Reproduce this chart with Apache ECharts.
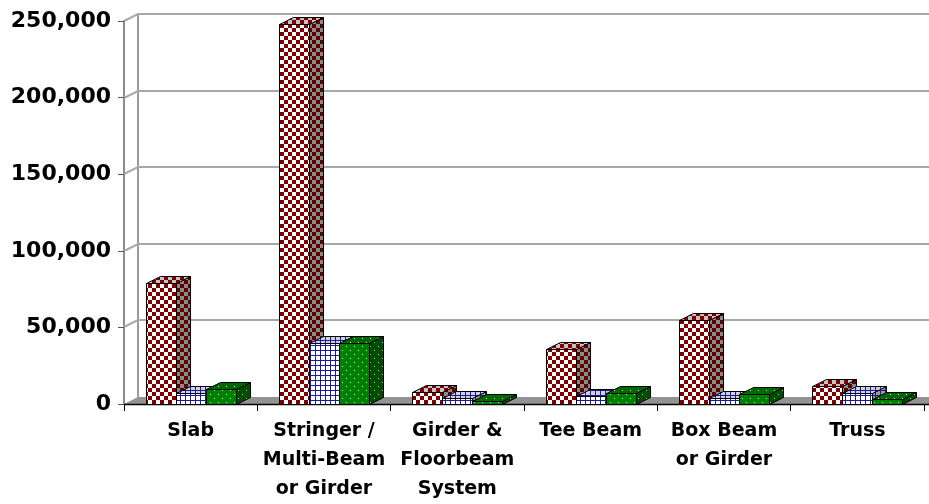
<!DOCTYPE html>
<html>
<head>
<meta charset="utf-8">
<script src="https://cdn.jsdelivr.net/npm/echarts@6/dist/echarts.min.js"></script>
<style>
  html, body { margin: 0; padding: 0; background: #ffffff; }
  #chart { width: 929px; height: 504px; }
</style>
</head>
<body>
<div id="chart"></div>
<script>
// Bridge superstructure types and counts per series
const categories = ['Slab', 'Stringer /\nMulti-Beam\nor Girder', 'Girder &\nFloorbeam\nSystem', 'Tee Beam', 'Box Beam\nor Girder', 'Truss'];
const checkerValues = [79000, 248000, 8000, 36000, 55000, 12000];
const gridValues    = [7500, 39500, 4000, 5500, 4000, 7500];
const dottedValues  = [9500, 40000, 2000, 7000, 6500, 3000];
const yTicks = [0, 50000, 100000, 150000, 200000, 250000];

// pseudo-3D depth offset (px) for walls, floor and columns
const DX = 14, DY = -7;

// ---- fill patterns ----
function makeCanvas(w, h, draw) {
  const c = document.createElement('canvas');
  c.width = w; c.height = h;
  draw(c.getContext('2d'));
  return { image: c, repeat: 'repeat' };
}
function checker(a, b) {
  return makeCanvas(8, 8, ctx => {
    ctx.fillStyle = b; ctx.fillRect(0, 0, 8, 8);
    ctx.fillStyle = a; ctx.fillRect(0, 0, 4, 4); ctx.fillRect(4, 4, 4, 4);
  });
}
function gridPat(bg, line) {
  return makeCanvas(5, 5, ctx => {
    ctx.fillStyle = bg; ctx.fillRect(0, 0, 5, 5);
    ctx.fillStyle = line; ctx.fillRect(0, 0, 5, 1); ctx.fillRect(0, 0, 1, 5);
  });
}
function dots(bg, dot) {
  return makeCanvas(8, 8, ctx => {
    ctx.fillStyle = bg; ctx.fillRect(0, 0, 8, 8);
    ctx.fillStyle = dot; ctx.fillRect(2, 2, 1, 1); ctx.fillRect(6, 6, 1, 1);
  });
}
const patterns = [
  { front: checker('#800000', '#ffffff'), side: checker('#5c0000', '#8a8a8a'), top: checker('#800000', '#c4c4c4') },
  { front: gridPat('#ffffff', '#1a1a9c'), side: gridPat('#9a9aa6', '#1a1a8c'), top: gridPat('#d0d0d8', '#1a1a9c') },
  { front: dots('#008000', '#e0ffe0'), side: dots('#004c00', '#a0d0a0'), top: dots('#006a00', '#d0f0d0') }
];

function barRenderer(sIdx) {
  return function (params, api) {
    const cat = api.value(0), v = api.value(1);
    const base = api.coord([cat, 0]);
    const top = api.coord([cat, v]);
    const band = api.size([1, 0])[0];
    const w = band * 0.225;
    const x0 = Math.round(base[0] - 1.5 * w + sIdx * w) + 0.5;
    const x1 = Math.round(base[0] - 1.5 * w + (sIdx + 1) * w) + 0.5;
    const y0 = Math.round(base[1]) + 0.5;
    const y1 = Math.round(top[1]) + 0.5;
    const p = patterns[sIdx];
    const edge = { stroke: '#000000', lineWidth: 1 };
    return {
      type: 'group',
      children: [
        { type: 'polygon', shape: { points: [[x1, y0], [x1 + DX, y0 + DY], [x1 + DX, y1 + DY], [x1, y1]] },
          style: Object.assign({ fill: p.side }, edge) },
        { type: 'polygon', shape: { points: [[x0, y1], [x1, y1], [x1 + DX, y1 + DY], [x0 + DX, y1 + DY]] },
          style: Object.assign({ fill: p.top }, edge) },
        { type: 'polygon', shape: { points: [[x0, y0], [x1, y0], [x1, y1], [x0, y1]] },
          style: Object.assign({ fill: p.front }, edge) }
      ]
    };
  };
}

// walls, floor and gridlines on the back wall
function renderWalls(params, api) {
  const cs = params.coordSys;
  const v = api.value(1);
  const y = Math.round(api.coord([0, v])[1]);
  const xL = cs.x, xR = cs.x + cs.width + 40;
  if (v === 0) {
    return {
      type: 'group',
      children: [
        { type: 'polygon', shape: { points: [[xL, y], [xR, y], [xR + DX, y + DY], [xL + DX, y + DY]] },
          style: { fill: '#939393' } },
        { type: 'line', shape: { x1: xL + DX, y1: y + DY, x2: xL + DX, y2: cs.y + DY },
          style: { stroke: '#9a9a9a', lineWidth: 2 } },
        { type: 'line', shape: { x1: xL, y1: y + 0.5, x2: xR, y2: y + 0.5 },
          style: { stroke: '#000000', lineWidth: 1.5 } }
      ]
    };
  }
  return {
    type: 'polyline',
    shape: { points: [[xL, y], [xL + DX, y + DY], [xR, y + DY]] },
    style: { stroke: '#a8a8a8', lineWidth: 2, fill: null }
  };
}

const toPairs = arr => arr.map((v, i) => [i, v]);

const chart = echarts.init(document.getElementById('chart'), null, { renderer: 'canvas' });
chart.setOption({
  animation: false,
  backgroundColor: '#ffffff',
  grid: { left: 124, right: 5, top: 21, bottom: 97 },
  xAxis: {
    type: 'category',
    data: categories,
    axisLine: { show: false },
    axisTick: { show: true, length: 7, lineStyle: { color: '#000000', width: 1 } },
    axisLabel: {
      interval: 0, margin: 13,
      fontFamily: 'DejaVu Sans', fontWeight: 'bold', fontSize: 19, lineHeight: 29, color: '#000000'
    },
    splitLine: { show: false }
  },
  yAxis: {
    type: 'value',
    min: 0, max: 250000, interval: 50000,
    axisLine: { show: true, lineStyle: { color: '#8c8c8c', width: 2 } },
    axisTick: { show: true, length: 6, lineStyle: { color: '#555555', width: 1 } },
    axisLabel: {
      margin: 13,
      fontFamily: 'DejaVu Sans', fontWeight: 'bold', fontSize: 22, color: '#000000',
      formatter: v => v.toLocaleString('en-US')
    },
    splitLine: { show: false }
  },
  series: [
    { type: 'custom', renderItem: renderWalls, data: yTicks.map(v => [0, v]), silent: true },
    { type: 'custom', renderItem: barRenderer(0), data: toPairs(checkerValues) },
    { type: 'custom', renderItem: barRenderer(1), data: toPairs(gridValues) },
    { type: 'custom', renderItem: barRenderer(2), data: toPairs(dottedValues) }
  ]
});
</script>
</body>
</html>
